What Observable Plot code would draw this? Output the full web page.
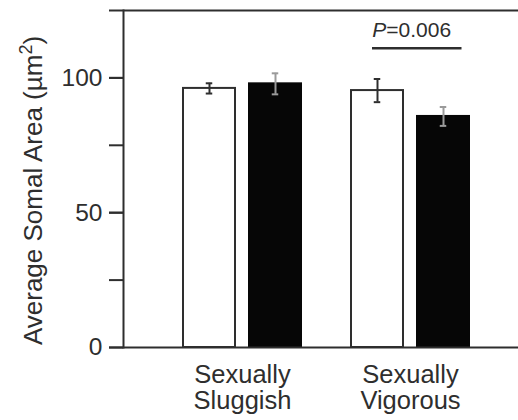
<!DOCTYPE html>
<html><head><meta charset="utf-8">
<script src="https://cdn.jsdelivr.net/npm/d3@7"></script>
<script src="https://cdn.jsdelivr.net/npm/@observablehq/plot@0.6"></script>
<style>body{margin:0;background:#fff} svg{display:block}</style>
</head><body><div id="chart"></div>
<script>
const groups = ["Sexually Sluggish", "Sexually Vigorous"];
const openMeans = [96.1, 95.3];
const openErrors = [1.9, 4.3];
const filledMeans = [97.8, 85.7];
const filledErrors = [3.9, 3.5];
const yTicks = [0, 25, 50, 75, 100, 125];
const yTickLabels = [0, 50, 100];
const yLabelMain = "Average Somal Area (\u00b5m";
const yLabelSup = "2";
const sigGroup = "Sexually Vigorous";
const sigY = 111;
const sigP = "P";
const sigText = "=0.006";

const openData = groups.map((g, i) => ({group: g, mean: openMeans[i], lo: openMeans[i] - openErrors[i], hi: openMeans[i] + openErrors[i]}));
const filledData = groups.map((g, i) => ({group: g, mean: filledMeans[i], lo: filledMeans[i] - filledErrors[i], hi: filledMeans[i] + filledErrors[i]}));

const ink = "#2e2e2e";
const errGray = "#9a9a9a";
const font = "'Liberation Sans', Arial, Helvetica, sans-serif";

const chart = Plot.plot({
  width: 518, height: 420,
  marginLeft: 123, marginRight: 0, marginTop: 10, marginBottom: 73,
  style: {fontFamily: font, color: ink, background: "#fff", overflow: "visible"},
  x: {domain: groups, range: [157.5, 494.5], padding: 0},
  y: {domain: [0, 125]},
  marks: [
    Plot.barY(openData, {x: "group", y: "mean", fill: "white", stroke: ink, strokeWidth: 2, insetLeft: 25, insetRight: 91}),
    Plot.barY(filledData, {x: "group", y: "mean", fill: "#060606", stroke: "#060606", strokeWidth: 2, insetLeft: 91, insetRight: 25}),
    Plot.ruleX(openData, {x: "group", y1: "lo", y2: "hi", dx: -33, stroke: ink, strokeWidth: 2}),
    Plot.tickY(openData, {x: "group", y: "lo", dx: -33, insetLeft: 80.75, insetRight: 80.75, stroke: ink, strokeWidth: 2}),
    Plot.tickY(openData, {x: "group", y: "hi", dx: -33, insetLeft: 80.75, insetRight: 80.75, stroke: ink, strokeWidth: 2}),
    Plot.ruleX(filledData, {x: "group", y1: "lo", y2: "hi", dx: 33, stroke: errGray, strokeWidth: 2}),
    Plot.tickY(filledData, {x: "group", y: "lo", dx: 33, insetLeft: 80.75, insetRight: 80.75, stroke: errGray, strokeWidth: 2}),
    Plot.tickY(filledData, {x: "group", y: "hi", dx: 33, insetLeft: 80.75, insetRight: 80.75, stroke: errGray, strokeWidth: 2}),
    Plot.ruleY([0, 125], {stroke: ink, strokeWidth: 2}),
    Plot.frame({anchor: "left", stroke: ink, strokeWidth: 2}),
    Plot.axisY({ticks: yTicks, tickSize: 14, tickFormat: () => null, stroke: ink, strokeWidth: 2, label: null}),
    Plot.axisY({ticks: yTickLabels, tickSize: 14, tickPadding: 7, fontSize: 24.5, stroke: ink, strokeWidth: 2, label: null}),
    Plot.axisX({tickSize: 0, tickPadding: 16, fontSize: 25.5, lineHeight: 1.05, tickFormat: d => d.replace(" ", "\n"), label: null}),
    Plot.tickY([sigY], {x: () => sigGroup, y: d => d, insetLeft: 46, insetRight: 32.5, stroke: ink, strokeWidth: 2.5}),
    Plot.text([sigText], {x: () => sigGroup, y: () => sigY, dx: 46 - 84.25, dy: -11, textAnchor: "start", lineAnchor: "bottom", fontSize: 21, fill: ink})
  ]
});
document.getElementById("chart").appendChild(chart);

const svg = d3.select(chart);
const ys = chart.scale("y");
// italic P prefix in the significance label
svg.selectAll("text").filter(function() { return this.textContent === sigText; }).each(function() {
  const t = d3.select(this);
  t.text(null);
  t.append("tspan").attr("font-style", "italic").text(sigP);
  t.append("tspan").text(sigText);
});
// y-axis title with superscript
const yl = svg.append("text")
  .attr("transform", `translate(42,${(ys.apply(0) + ys.apply(125)) / 2 + 12}) rotate(-90)`)
  .attr("text-anchor", "middle")
  .attr("font-family", font)
  .attr("font-size", 26)
  .attr("fill", ink);
yl.append("tspan").text(yLabelMain);
yl.append("tspan").attr("font-size", 18).attr("dy", -10).text(yLabelSup);
yl.append("tspan").attr("dy", 10).text(")");
</script>
</body></html>
